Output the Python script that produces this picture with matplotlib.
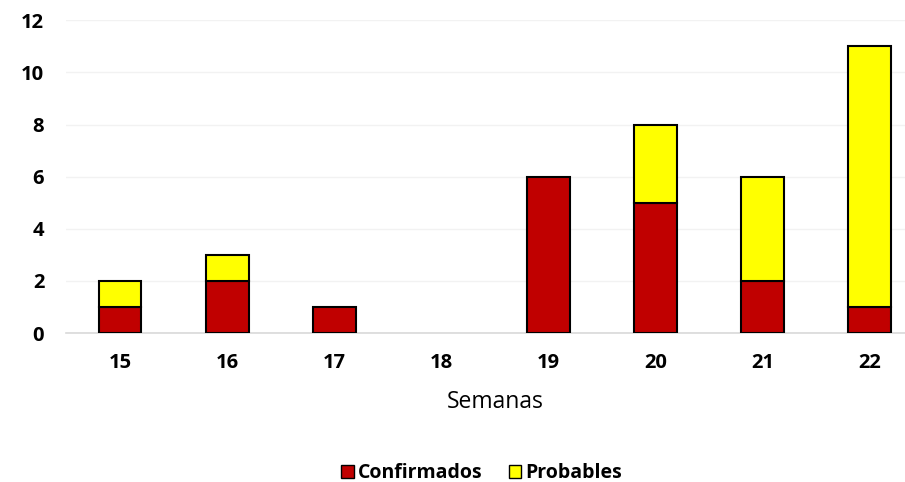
import numpy as np
import matplotlib.pyplot as plt
from matplotlib.patches import Patch

semanas = ['15', '16', '17', '18', '19', '20', '21', '22']
confirmados = [1, 2, 1, 0, 6, 5, 2, 1]
probables = [1, 1, 0, 0, 0, 3, 4, 10]

plt.rcParams['font.family'] = ['Open Sans', 'DejaVu Sans']

fig = plt.figure(figsize=(9.05, 4.82), dpi=100)
# plot area runs past the right edge, as in the cropped reference
axe = fig.add_axes([0.0734, 0.309, 0.947, 0.649])

x = np.arange(len(semanas))
conf = np.array(confirmados)
prob = np.array(probables)

# skip zero-height segments so no flat outline is drawn
m1 = conf > 0
m2 = prob > 0
axe.bar(x[m1], conf[m1], width=0.4, color='#c00000', edgecolor='k', lw=1.5, zorder=3)
axe.bar(x[m2], prob[m2], bottom=conf[m2], width=0.4, color='#ffff00', edgecolor='k', lw=1.5, zorder=3)

axe.set_xlim(-0.5, len(semanas) - 0.5)
axe.set_ylim(0, 12)
axe.set_yticks(range(0, 13, 2))
axe.set_xticks(x)
axe.set_xticklabels(semanas)
axe.tick_params(axis='both', length=0, labelsize=14.5)
axe.tick_params(axis='y', pad=16)
axe.tick_params(axis='x', pad=14)
for lab in axe.get_xticklabels() + axe.get_yticklabels():
    lab.set_fontweight('bold')

axe.grid(axis='y', color='#f2f2f2', lw=1, zorder=0)
for s in ['top', 'right', 'left']:
    axe.spines[s].set_visible(False)
axe.spines['bottom'].set_color('#d9d9d9')
axe.spines['bottom'].set_linewidth(1.2)

axe.set_xlabel('Semanas', fontsize=16.5)
axe.xaxis.label.set_va('center')
axe.xaxis.set_label_coords(0.5, -0.2204)

handles = [Patch(facecolor='#c00000', edgecolor='k', label='Confirmados'),
           Patch(facecolor='#ffff00', edgecolor='k', label='Probables')]
fig.legend(handles=handles, loc='center', bbox_to_anchor=(481.5 / 905, 1 - 473 / 482),
           ncol=2, frameon=False, handlelength=0.65, handleheight=0.65,
           handletextpad=0.2, columnspacing=1.35,
           prop={'weight': 'bold', 'size': 14})

plt.savefig('out.png', dpi=100)
